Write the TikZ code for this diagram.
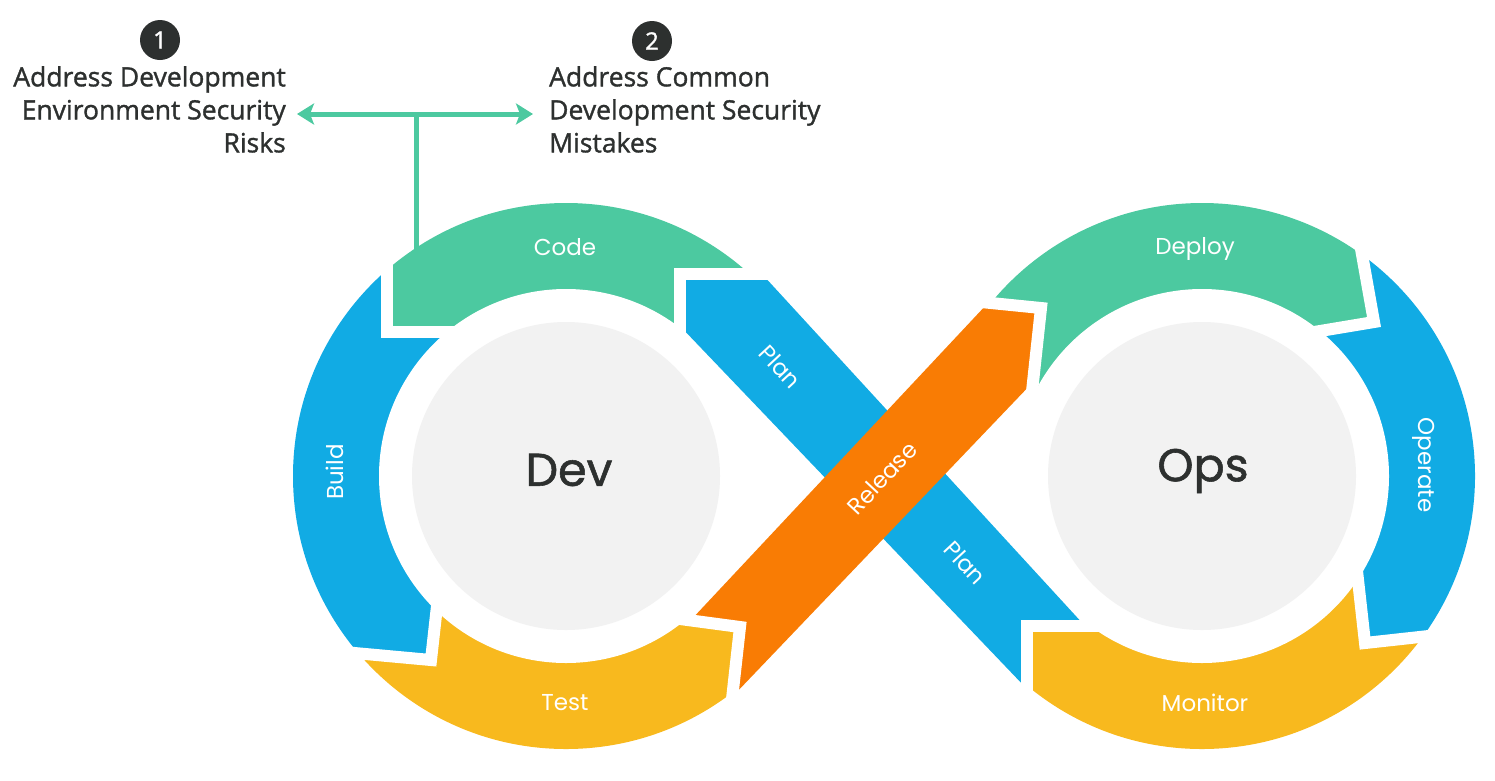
\documentclass[tikz,border=0pt]{standalone}
\usepackage{fontspec}
\setmainfont{Open Sans}
\newfontfamily\notefont[FakeBold=1.3]{Open Sans}
\newfontfamily\ringfont{Poppins}
\newfontfamily\hubfont[FakeBold=1.2]{Poppins}
\usepackage{tikz}
\usetikzlibrary{arrows.meta,positioning}

\definecolor{stepgreen}{RGB}{76,201,160}
\definecolor{stepblue}{RGB}{17,171,228}
\definecolor{steporange}{RGB}{249,124,4}
\definecolor{stepyellow}{RGB}{248,185,30}
\definecolor{hubgray}{RGB}{242,242,242}
\definecolor{inkdark}{RGB}{45,48,47}

\begin{document}
\begin{tikzpicture}[x=1pt,y=-1pt,>={Stealth[length=17pt,width=21pt,inset=4pt]},
  gap/.style={draw=white,line width=12pt},
  link/.style={draw=stepgreen,line width=5pt},
  lbl/.style={text=white,inner sep=0pt,font=\ringfont\fontsize{23}{23}\selectfont},
  hub/.style={text=inkdark,inner sep=0pt,font=\hubfont\fontsize{46}{46}\selectfont},
  note/.style={text=inkdark,inner sep=0pt,font=\notefont\fontsize{26.5}{33}\selectfont},
  badge/.style={circle,fill=inkdark,text=white,minimum size=40pt,inner sep=0pt,font=\notefont\fontsize{24}{24}\selectfont}]
\useasboundingbox (0,0) rectangle (1495,780);

\coordinate (dev) at (566,476);
\coordinate (ops) at (1202,476);

% Dev loop
\begin{scope}
  \clip (dev) circle (273);
  \fill[stepgreen] (470,332) -- (387,332) -- (387,150) -- (790,150) -- (790,274) -- (680,274) -- (680,345) -- cycle;
  \fill[stepblue] (470,332) -- (387,332) -- (387,150) -- (200,150) -- (200,645) -- (311,649) -- (431,660) -- (441,570) -- cycle;
  \fill[stepyellow] (441,570) -- (431,660) -- (311,649) -- (300,800) -- (722,800) -- (730,717) -- (740,627) -- (650,615) -- cycle;
\end{scope}
% Ops loop
\begin{scope}
  \clip (ops) circle (273);
  \fill[stepgreen] (941,298) -- (1041,308) -- (1030,410) -- (1284,337) -- (1374,322) -- (1358,232) -- (1358,150) -- (941,150) -- cycle;
  \fill[stepblue] (1358,232) -- (1374,322) -- (1284,337) -- (1355,553) -- (1365,643) -- (1465,632) -- (1520,632) -- (1520,150) -- (1358,150) -- cycle;
  \fill[stepyellow] (1355,553) -- (1365,643) -- (1465,632) -- (1465,800) -- (1027,800) -- (1027,626) -- (1110,626) -- cycle;
\end{scope}
\fill[white] (dev) circle (187) (ops) circle (187);

% crossing bands
\fill[stepblue] (680,274) -- (762,274) -- (1085,626) -- (1027,626) -- (1027,689) -- (680,326) -- cycle;
\fill[steporange] (690,621) -- (740,627) -- (733,696) -- (1034,381) -- (1041,308) -- (988,303) -- cycle;

% gaps between the arrows
\draw[gap] (387,250) -- (387,332) -- (470,332);
\draw[gap] (790,274) -- (680,274) -- (680,345);
\draw[gap] (311,649) -- (431,660) -- (441,570);
\draw[gap] (650,615) -- (740,627) -- (730,717);
\draw[gap] (941,298) -- (1041,308) -- (1030,410);
\draw[gap] (1358,232) -- (1374,322) -- (1284,337);
\draw[gap] (1355,553) -- (1365,643) -- (1465,632);
\draw[gap] (1110,626) -- (1027,626) -- (1027,710);

\fill[hubgray] (dev) circle (154) (ops) circle (154);
\node[hub] (devtext) at (569,470) {Dev};
\node[hub] (opstext) at (1203,471) {Ops};

\node[lbl] (code) at (565,247) {Code};
\node[lbl,rotate=90] (build) at (335,472) {Build};
\node[lbl] (test) at (565,703) {Test};
\node[lbl,rotate=-47] (plana) at (780,367) {Plan};
\node[lbl,rotate=-47] (planb) at (965,563) {Plan};
\node[lbl,rotate=47] (release) at (882,478) {Release};
\node[lbl] (deploy) at (1195,249) {Deploy};
\node[lbl,rotate=-90] (operate) at (1424,465) {Operate};
\node[lbl] (monitor) at (1205,703) {Monitor};

% notes on top
\node[badge] (one) at (160,40) {1};
\node[badge] (two) at (652,41) {2};
\node[note,align=right,anchor=north east] (risks) at (286,66) {Address Development\\Environment Security\\Risks};
\node[note,align=left,anchor=north west] (mistakes) at (549,66) {Address Common\\Development Security\\Mistakes};

\coordinate (lefttip) at (297,114);
\coordinate (righttip) at (533,114);
\coordinate (fork) at (416,114);
\coordinate (tap) at (416,258);
\draw[link,<->] (lefttip) -- (righttip);
\draw[link] (fork) -- (tap);
\end{tikzpicture}
\end{document}
